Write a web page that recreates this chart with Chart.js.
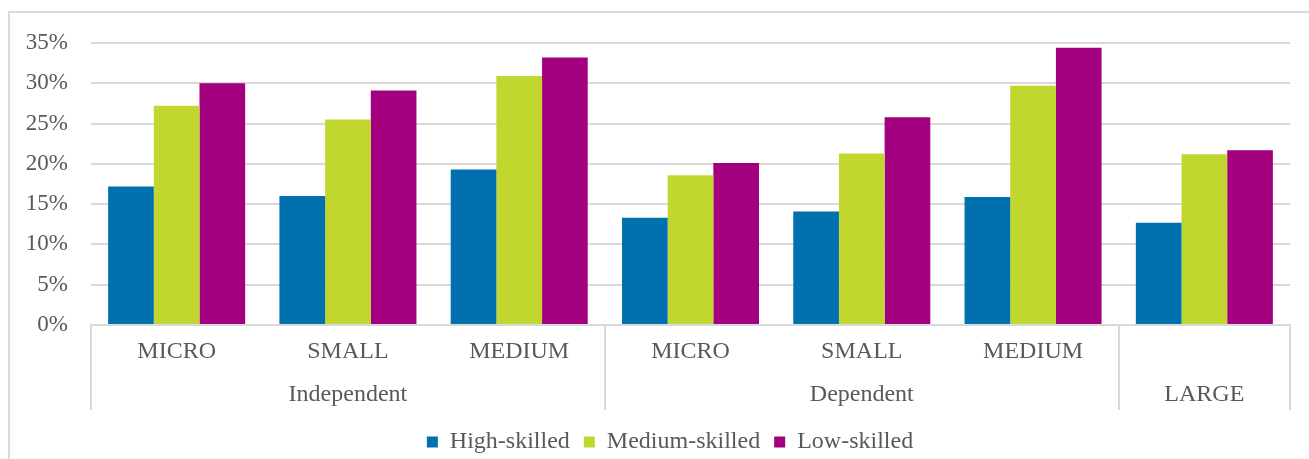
<!DOCTYPE html>
<html>
<head>
<meta charset="utf-8">
<script src="https://cdn.jsdelivr.net/npm/chart.js@4"></script>
<style>
  html, body { margin: 0; padding: 0; background: #fff; overflow: hidden; }
  #frame { position: absolute; left: 8px; top: 11px; width: 1400px; height: 500px;
           border-top: 2px solid #dadada; border-left: 2px solid #dadada; box-sizing: border-box; }
  #wrap { position: absolute; left: 0; top: 0; width: 1309px; height: 459px; }
</style>
</head>
<body>
<div id="frame"></div>
<div id="wrap"><canvas id="chart"></canvas></div>
<script>
// Firm size within each ownership group
const sizeLabels = ['MICRO', 'SMALL', 'MEDIUM', 'MICRO', 'SMALL', 'MEDIUM', ''];
// Ownership groups and how many size categories each spans
const groupNames = ['Independent', 'Dependent', 'LARGE'];
const groupSizes = [3, 3, 1];

// Shares by skill level (%)
const highSkilled   = [17.2, 16.0, 19.3, 13.3, 14.1, 15.9, 12.7];
const mediumSkilled = [27.2, 25.5, 30.9, 18.6, 21.3, 29.7, 21.2];
const lowSkilled    = [30.0, 29.1, 33.2, 20.1, 25.8, 34.4, 21.7];

const yTicks = [0, 5, 10, 15, 20, 25, 30, 35];

const FONT = 'Liberation Serif';
const TEXT = '#595959';
const LINE = '#d9d9d9';

// Draws the second row of the category axis: group separators and group names
const groupAxis = {
  id: 'groupAxis',
  afterDraw(chart) {
    const x = chart.scales.x;
    const ctx = chart.ctx;
    const n = sizeLabels.length;
    const w = (x.right - x.left) / n;
    const top = x.top;
    const bottom = x.top + 85;
    ctx.save();
    ctx.strokeStyle = LINE;
    ctx.lineWidth = 2;
    let idx = 0;
    const bounds = [0];
    groupSizes.forEach(s => { idx += s; bounds.push(idx); });
    bounds.forEach(b => {
      const px = Math.round(x.left + b * w);
      ctx.beginPath();
      ctx.moveTo(px, top);
      ctx.lineTo(px, bottom);
      ctx.stroke();
    });
    ctx.fillStyle = TEXT;
    ctx.font = '24px "' + FONT + '"';
    ctx.textAlign = 'center';
    ctx.textBaseline = 'middle';
    groupNames.forEach((g, i) => {
      const cx = x.left + ((bounds[i] + bounds[i + 1]) / 2) * w;
      ctx.fillText(g, cx, top + 70);
    });
    ctx.restore();
  }
};

// Nudges the legend row to sit under the plot, slightly right of the canvas centre
const legendOffset = {
  id: 'legendOffset',
  afterLayout(chart) {
    const l = chart.legend;
    l.left += 25; l.right += 25;
    l.top += 5; l.bottom += 5;
  }
};

new Chart(document.getElementById('chart'), {
  type: 'bar',
  data: {
    labels: sizeLabels,
    datasets: [
      { label: 'High-skilled',   data: highSkilled,   backgroundColor: '#0071AE' },
      { label: 'Medium-skilled', data: mediumSkilled, backgroundColor: '#C1D72F' },
      { label: 'Low-skilled',    data: lowSkilled,    backgroundColor: '#A30080' }
    ]
  },
  options: {
    responsive: true,
    maintainAspectRatio: false,
    animation: false,
    datasets: { bar: { categoryPercentage: 0.8, barPercentage: 1.0 } },
    layout: { padding: { left: 0, right: 19, top: 43, bottom: 0 } },
    scales: {
      x: {
        grid: { display: false, drawTicks: false },
        border: { display: true, color: LINE, width: 2 },
        ticks: { color: TEXT, font: { family: FONT, size: 24 }, padding: 12, maxRotation: 0, autoSkip: false },
        afterFit(scale) { scale.height = 86; }
      },
      y: {
        min: 0, max: 35,
        afterBuildTicks(scale) { scale.ticks = yTicks.map(v => ({ value: v })); },
        grid: { color: LINE, lineWidth: 2, drawTicks: false },
        border: { display: false },
        ticks: { color: TEXT, font: { family: FONT, size: 23 }, padding: 23, callback: v => v + '%' },
        afterFit(scale) { scale.width = 91; }
      }
    },
    plugins: {
      tooltip: { enabled: false },
      legend: {
        position: 'bottom',
        labels: { color: TEXT, font: { family: FONT, size: 24 }, boxWidth: 11, boxHeight: 11, padding: 14 }
      }
    }
  },
  plugins: [groupAxis, legendOffset]
});
</script>
</body>
</html>
